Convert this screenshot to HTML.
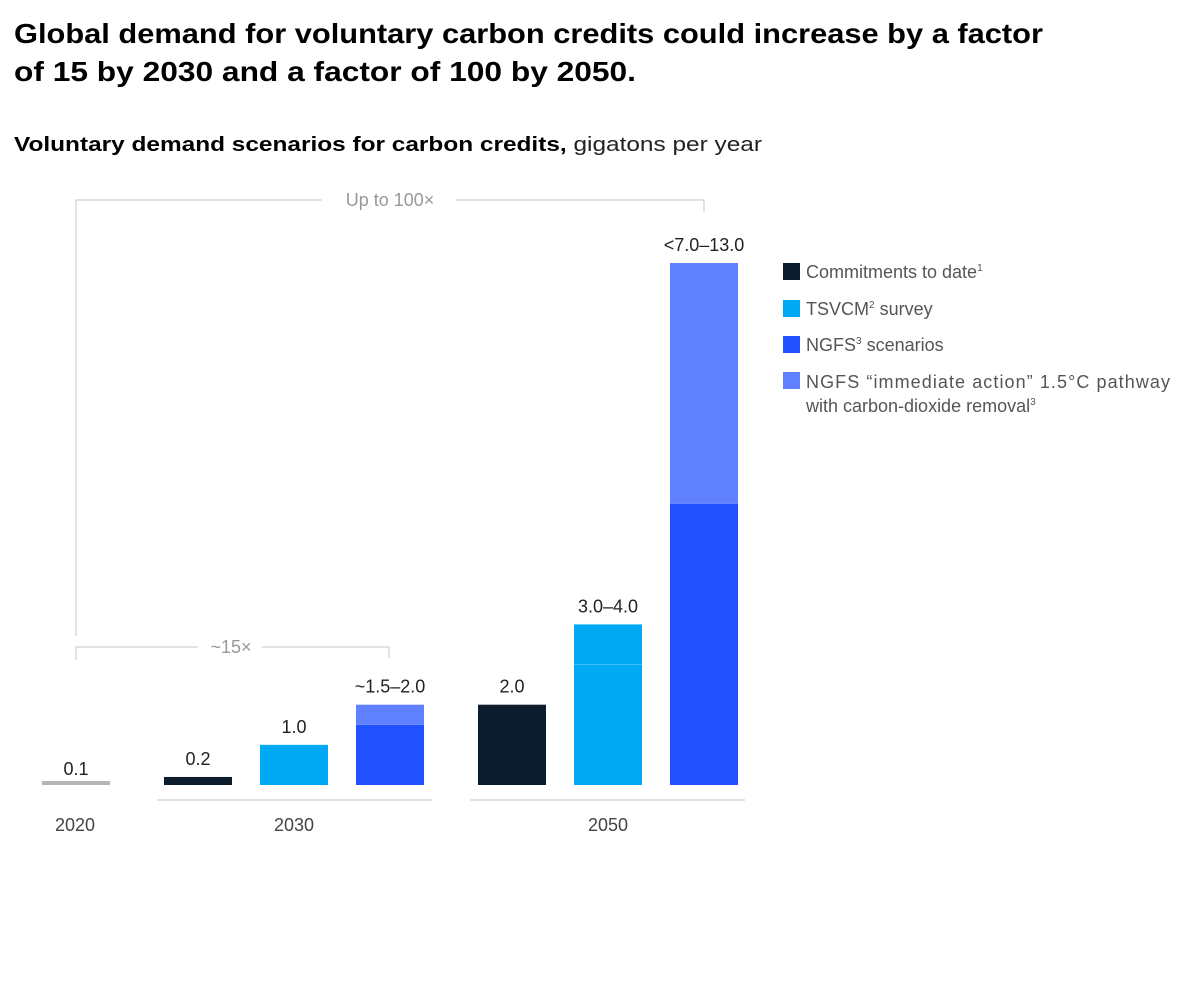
<!DOCTYPE html>
<html><head><meta charset="utf-8"><style>
body{margin:0;background:#fff;width:1200px;height:1000px;overflow:hidden;font-family:"Liberation Sans",sans-serif}
</style></head><body>
<svg width="1200" height="1000" style="position:absolute;left:0;top:0">
<text x="14" y="43" font-size="28" font-weight="bold" fill="#000" textLength="1029" lengthAdjust="spacingAndGlyphs">Global demand for voluntary carbon credits could increase by a factor</text>
<text x="14" y="81" font-size="28" font-weight="bold" fill="#000" textLength="622" lengthAdjust="spacingAndGlyphs">of 15 by 2030 and a factor of 100 by 2050.</text>
<text x="14" y="151" font-size="20" fill="#222" textLength="748" lengthAdjust="spacingAndGlyphs"><tspan font-weight="bold" fill="#000">Voluntary demand scenarios for carbon credits,</tspan> gigatons per year</text>
<g stroke="#d0d0d0" stroke-width="1.2" fill="none">
<path d="M76 636 V200 H322 M456 200 H704 V212"/>
<path d="M76 660 V647 H198 M262 647 H389 V658"/>
<path d="M157 800 H432 M470 800 H745"/>
</g>
<text x="390" y="206" font-size="18" fill="#999" text-anchor="middle">Up to 100×</text>
<text x="231" y="653" font-size="18" fill="#999" text-anchor="middle">~15×</text>
<g id="bars"></g>
<text x="75" y="831" font-size="18" fill="#444" text-anchor="middle">2020</text>
<text x="294" y="831" font-size="18" fill="#444" text-anchor="middle">2030</text>
<text x="608" y="831" font-size="18" fill="#444" text-anchor="middle">2050</text>
<g font-size="18" fill="#555">
<rect x="783" y="263" width="17" height="17" fill="#0c1c2c"/>
<text x="806" y="278">Commitments to date<tspan font-size="10" dy="-7">1</tspan></text>
<rect x="783" y="300" width="17" height="17" fill="#00a9f4"/>
<text x="806" y="315">TSVCM<tspan font-size="10" dy="-7">2</tspan><tspan dy="7"> survey</tspan></text>
<rect x="783" y="336" width="17" height="17" fill="#2251ff"/>
<text x="806" y="351">NGFS<tspan font-size="10" dy="-7">3</tspan><tspan dy="7"> scenarios</tspan></text>
<rect x="783" y="372" width="17" height="17" fill="#5f80ff"/>
<text x="806" y="388" textLength="364" lengthAdjust="spacing">NGFS “immediate action” 1.5°C pathway</text>
<text x="806" y="412">with carbon-dioxide removal<tspan font-size="10" dy="-7">3</tspan></text>
</g>
</svg>
<script>
const barNames=["2020","2030-commitments","2030-tsvcm","2030-ngfs","2050-commitments","2050-tsvcm","2050-ngfs"];
const lowValues=[0.1,0.2,1.0,1.5,2.0,3.0,7.0];
const highValues=[0.1,0.2,1.0,2.0,2.0,4.0,13.0];
const valueLabels=["0.1","0.2","1.0","~1.5–2.0","2.0","3.0–4.0","<7.0–13.0"];
const lowColors=["#b5b5b5","#0c1c2c","#00a9f4","#2251ff","#0c1c2c","#00a9f4","#2251ff"];
const highColors=["#b5b5b5","#0c1c2c","#00a9f4","#5f80ff","#0c1c2c","#00a9f4","#5f80ff"];
const barX=[42,164,260,356,478,574,670];
const baseY=785,scale=40.15,bw=68;
function y(v){return baseY-v*scale;}
const g=document.getElementById('bars');
const ns="http://www.w3.org/2000/svg";
barNames.forEach((n,i)=>{
  const lo=lowValues[i],hi=highValues[i];
  const r=document.createElementNS(ns,'rect');
  r.setAttribute('x',barX[i]);r.setAttribute('width',bw);
  const h0=Math.max(lo*scale,3);
  r.setAttribute('y',baseY-h0);r.setAttribute('height',h0);
  r.setAttribute('fill',lowColors[i]);
  
  
  g.appendChild(r);
  if(hi>lo){
    const r2=document.createElementNS(ns,'rect');
    r2.setAttribute('x',barX[i]);r2.setAttribute('width',bw);
    r2.setAttribute('y',y(hi));r2.setAttribute('height',(hi-lo)*scale);
    r2.setAttribute('fill',highColors[i]);
    
    
    g.appendChild(r2);
    if(highColors[i]===lowColors[i]){
      const l=document.createElementNS(ns,'line');
      l.setAttribute('x1',barX[i]);l.setAttribute('x2',barX[i]+bw);
      l.setAttribute('y1',y(lo));l.setAttribute('y2',y(lo));
      l.setAttribute('stroke','#3fc0f7');l.setAttribute('stroke-width','1');
      
      
      g.appendChild(l);
    }
  }
  const t=document.createElementNS(ns,'text');
  t.setAttribute('x',barX[i]+bw/2);
  t.setAttribute('y',y(Math.max(hi,0.1))-(i===0?6:12));
  t.setAttribute('text-anchor','middle');t.setAttribute('font-size','18');t.setAttribute('fill','#222');
  t.textContent=valueLabels[i];
  
  
  g.appendChild(t);
});
</script>
</body></html>
